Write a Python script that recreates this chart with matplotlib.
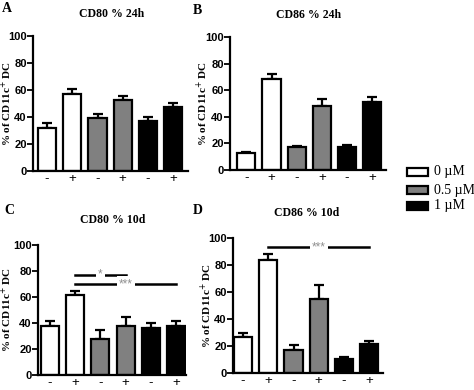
import numpy as np
import matplotlib.pyplot as plt

# data (% of CD11c+ DC)
groups = ["0 \u00b5M", "0.5 \u00b5M", "1 \u00b5M"]
tick_labels = ["-", "+", "-", "+", "-", "+"]
bar_colors = ["white", "white", "#808080", "#808080", "black", "black"]

titles = ["CD80 % 24h", "CD86 % 24h", "CD80 % 10d", "CD86 % 10d"]
letters = ["A", "B", "C", "D"]

cd80_24h = [32, 57, 39, 52.5, 37, 47.5]
cd80_24h_err = [3.5, 3.5, 3.5, 3, 3, 3]
cd86_24h = [12.5, 68.5, 17, 48, 17, 51]
cd86_24h_err = [1, 4, 0.8, 5.5, 1.5, 4]
cd80_10d = [37.5, 61.5, 28, 38, 36.5, 37.5]
cd80_10d_err = [4, 3.5, 6.5, 7, 3.5, 4]
cd86_10d = [26.5, 83.5, 17, 54.5, 10.5, 21.5]
cd86_10d_err = [3, 4.5, 4, 11, 1.3, 2.5]

values = [cd80_24h, cd86_24h, cd80_10d, cd86_10d]
errors = [cd80_24h_err, cd86_24h_err, cd80_10d_err, cd86_10d_err]

# significance bars: (panel, from bar, to bar, height, label)
sig = [(2, 1, 3, 77, "*"), (2, 1, 5, 70, "***"), (3, 1, 5, 93, "***")]

W, H = 474, 390
fig = plt.figure(figsize=(W / 100, H / 100), dpi=100)

# axes boxes in pixels: left, right, top, bottom, and x limits
boxes = [(33, 188, 36, 171), (230, 386, 37, 170), (38, 186, 245, 375), (233, 383, 238, 373)]
xlims = [(-0.56, 5.59), (-0.65, 5.55), (-0.48, 5.4), (-0.4, 5.55)]
ylabel_x = [14, 210, 14, 214]  # right edge of the rotated y label, px
title_pos = [(112, 14), (309, 15), (113, 220), (307, 213)]
letter_pos = [(2, 9), (193, 11), (4, 210), (193, 210)]

serif = "Liberation Serif"
sans = "Liberation Sans"

axes = []
for i, (l, r, t, b) in enumerate(boxes):
    ax = fig.add_axes([l / W, 1 - b / H, (r - l) / W, (b - t) / H])
    x = np.arange(6)
    ax.bar(x, values[i], width=0.72, color=bar_colors, edgecolor="black", linewidth=1.6, zorder=2)
    ax.errorbar(x, values[i], yerr=[np.zeros(6), errors[i]], fmt="none", ecolor="black",
                elinewidth=1.6, capsize=3.3, capthick=1.6, zorder=1)
    ax.set_xlim(*xlims[i])
    ax.set_ylim(0, 100)
    ax.set_yticks([0, 20, 40, 60, 80, 100])
    ax.set_xticks(x)
    ax.set_xticklabels(tick_labels, fontsize=9.5, fontfamily=sans)
    ax.tick_params(axis="x", length=0, pad=1.5)
    ax.tick_params(axis="y", length=4, width=1.3, pad=0.5)
    for lab in ax.get_yticklabels():
        lab.set_fontfamily(sans)
        lab.set_fontweight("bold")
        lab.set_fontsize(8)
    for s in ["top", "right"]:
        ax.spines[s].set_visible(False)
    for s in ["left", "bottom"]:
        ax.spines[s].set_linewidth(1.6)
    ax.set_ylabel("% of CD11c$^{+}$ DC", fontfamily=serif, fontweight="bold", fontsize=8)
    ax.yaxis.set_label_coords((ylabel_x[i] - l) / (r - l), 0.5)
    axes.append(ax)
    fig.text(title_pos[i][0] / W, 1 - title_pos[i][1] / H, titles[i], fontfamily=serif,
             fontweight="bold", fontsize=8.5, ha="center", va="center")
    fig.text(letter_pos[i][0] / W, 1 - letter_pos[i][1] / H, letters[i], fontfamily=serif,
             fontweight="bold", fontsize=10, ha="left", va="center")

for p, a, b, h, lab in sig:
    ax = axes[p]
    ax.plot([a, b], [h, h], color="black", linewidth=1.8, clip_on=False, zorder=3)
    ax.text((a + b) / 2, h, lab, color="#909090", fontsize=8.5, ha="center", va="center", zorder=4,
            fontfamily=sans, bbox=dict(facecolor="white", edgecolor="none", pad=1.5))

# legend
leg_y = [172, 190, 206]
leg_colors = ["white", "#808080", "black"]
for yy, c, g in zip(leg_y, leg_colors, groups):
    rect = plt.Rectangle((407 / W, 1 - (yy + 4) / H), 21 / W, 8 / H, transform=fig.transFigure,
                         facecolor=c, edgecolor="black", linewidth=1.6)
    fig.add_artist(rect)
    fig.text(434 / W, 1 - yy / H, g, fontfamily=serif, fontsize=10, ha="left", va="center")

fig.savefig("out.png", dpi=100)
